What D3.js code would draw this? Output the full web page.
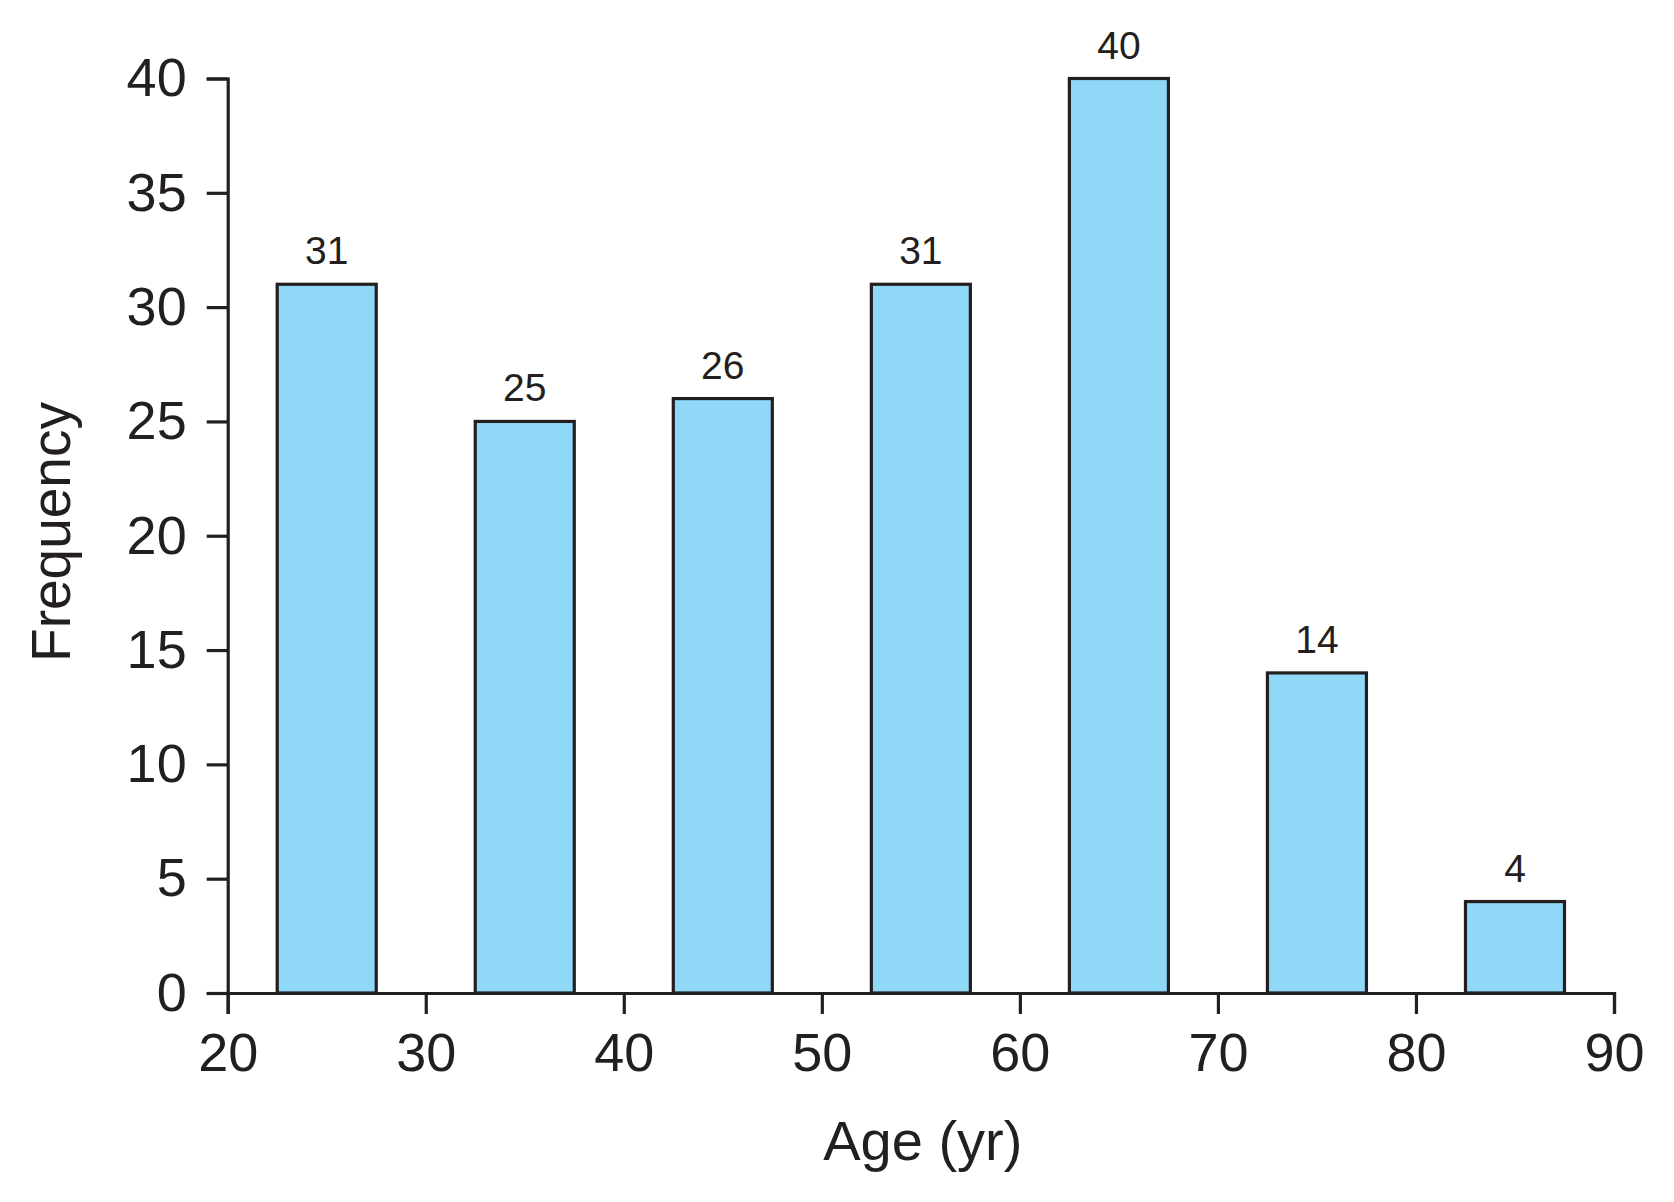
<!DOCTYPE html>
<html>
<head>
<meta charset="utf-8">
<script src="https://cdn.jsdelivr.net/npm/d3@7"></script>
<style>
  html, body { margin: 0; padding: 0; background: #fff; }
  svg { display: block; }
  text { font-family: "Liberation Sans", Arial, Helvetica, sans-serif; fill: #231f20; }
</style>
</head>
<body>
<svg id="chart" width="1674" height="1202"></svg>
<script>
// Data
const binCenters = [25, 35, 45, 55, 65, 75, 85];
const frequencies = [31, 25, 26, 31, 40, 14, 4];
const binWidth = 5;
const xTicks = [20, 30, 40, 50, 60, 70, 80, 90];
const yTicks = [0, 5, 10, 15, 20, 25, 30, 35, 40];
const xLabel = "Age (yr)";
const yLabel = "Frequency";

const svg = d3.select("#chart");
const x = d3.scaleLinear().domain([20, 90]).range([227.7, 1614]);
const y = d3.scaleLinear().domain([0, 40]).range([993, 78.5]);
const ink = "#231f20";

// Bars
svg.append("g").selectAll("rect")
  .data(binCenters)
  .join("rect")
  .attr("x", d => x(d - binWidth / 2))
  .attr("width", d => x(d + binWidth / 2) - x(d - binWidth / 2))
  .attr("y", (d, i) => y(frequencies[i]))
  .attr("height", (d, i) => y(0) - y(frequencies[i]))
  .attr("fill", "#8fd8f7")
  .attr("stroke", ink)
  .attr("stroke-width", 3.2);

// Value labels
svg.append("g").selectAll("text")
  .data(binCenters)
  .join("text")
  .attr("x", d => x(d))
  .attr("y", (d, i) => y(frequencies[i]) - 20)
  .attr("text-anchor", "middle")
  .attr("font-size", 39)
  .text((d, i) => frequencies[i]);

// Axes
const xAxis = svg.append("g")
  .attr("transform", `translate(0,${y(0)})`)
  .call(d3.axisBottom(x).tickValues(xTicks).tickSize(21).tickPadding(19).tickFormat(d3.format("d")));
const yAxis = svg.append("g")
  .attr("transform", `translate(${x(20)},0)`)
  .call(d3.axisLeft(y).tickValues(yTicks).tickSize(21).tickPadding(20).tickFormat(d3.format("d")));

[xAxis, yAxis].forEach(g => {
  g.selectAll("path, line").attr("stroke", ink).attr("stroke-width", 3.2);
  g.selectAll("text").attr("font-size", 54).attr("fill", ink)
    .style("font-family", '"Liberation Sans", Arial, Helvetica, sans-serif');
});

// Axis titles
svg.append("text")
  .attr("x", (x(20) + x(90)) / 2 + 2)
  .attr("y", 1160)
  .attr("text-anchor", "middle")
  .attr("font-size", 56)
  .text(xLabel);

svg.append("text")
  .attr("transform", `translate(70,532) rotate(-90)`)
  .attr("text-anchor", "middle")
  .attr("font-size", 55)
  .text(yLabel);
</script>
</body>
</html>
